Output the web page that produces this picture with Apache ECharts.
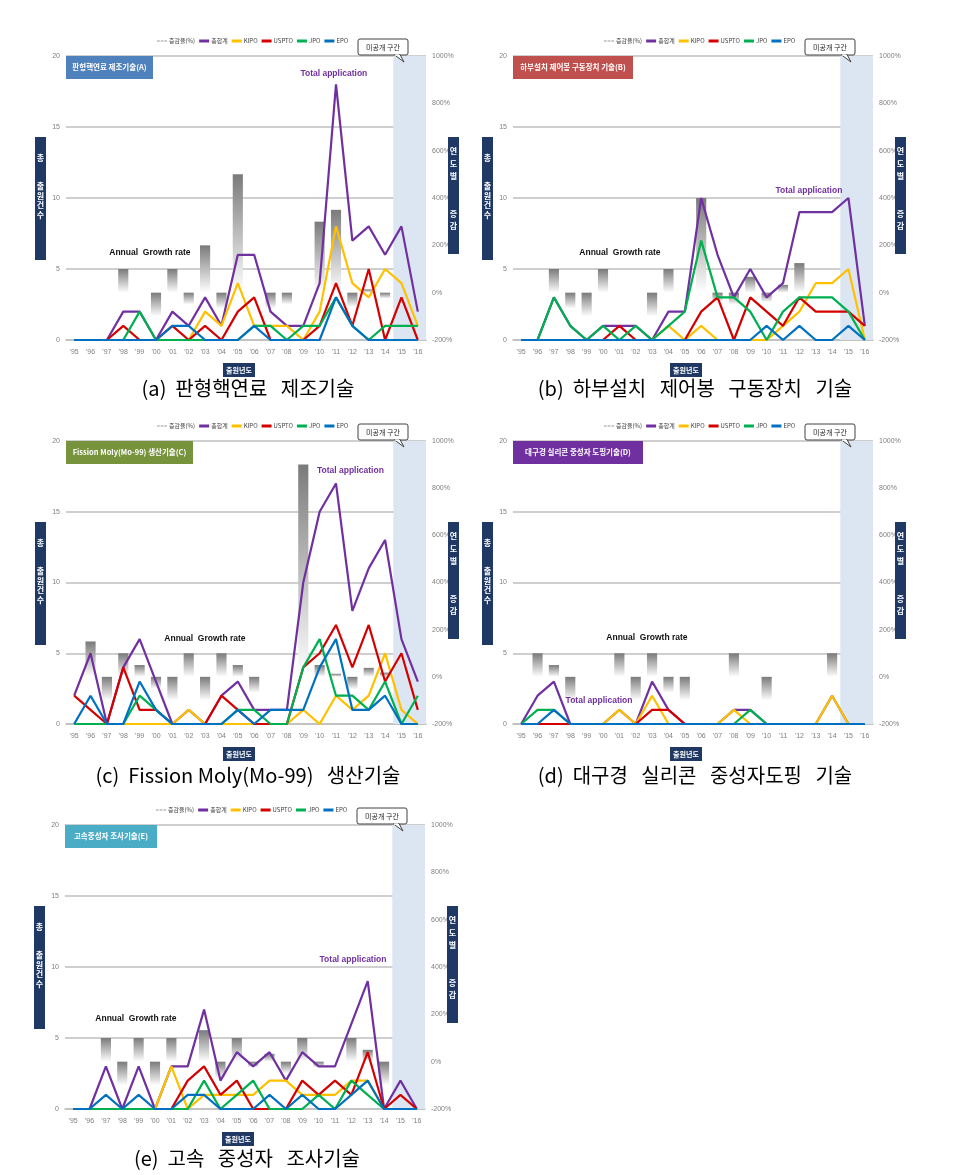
<!DOCTYPE html>
<html><head><meta charset="utf-8">
<script src="https://cdn.jsdelivr.net/npm/echarts@6/dist/echarts.min.js"></script>
<style>html,body{margin:0;padding:0;background:#fff}#c{width:958px;height:1175px}</style>
</head><body><div id="c"></div>
<script>
// ---- categories / labels ----
const years = ["'95","'96","'97","'98","'99","'00","'01","'02","'03","'04","'05","'06","'07","'08","'09","'10","'11","'12","'13","'14","'15","'16"];
const legendNames = ['증감율(%)','총합계','KIPO','USPTO','JPO','EPO'];
const unpublished = ["'15","'16"];
const countTicks = {min:0, max:20, interval:5};
const rateTicks = {min:-200, max:1000, interval:200};

// ---- (a) 판형핵연료 제조기술 ----
const A_growth = [null,null,null,100,0,-100,100,-50,200,-67,500,0,-67,-50,0,300,350,-61,14,-25,null,null];
const A_total  = [0,0,0,2,2,0,2,1,3,1,6,6,2,1,1,4,18,7,8,6,8,2];
const A_kipo   = [0,0,0,0,0,0,0,0,2,1,4,1,1,1,0,2,8,4,3,5,4,1];
const A_uspto  = [0,0,0,1,0,0,1,0,1,0,2,3,0,0,0,1,4,1,5,0,3,0];
const A_jpo    = [0,0,0,0,2,0,0,0,0,0,0,1,1,0,1,1,3,1,0,1,1,1];
const A_epo    = [0,0,0,0,0,0,1,1,0,0,0,1,0,0,0,0,3,1,0,0,0,0];

// ---- (b) 하부설치 제어봉 구동장치 기술 ----
const B_growth = [null,null,100,-67,-100,100,0,0,-100,100,0,400,-40,-50,67,-40,33,125,0,0,null,null];
const B_total  = [0,0,3,1,0,1,1,1,0,2,2,10,6,3,5,3,4,9,9,9,10,1];
const B_kipo   = [0,0,0,0,0,0,0,0,0,1,0,1,0,0,0,0,1,2,4,4,5,0];
const B_uspto  = [0,0,0,0,0,0,1,0,0,0,0,2,3,0,3,2,1,3,2,2,2,1];
const B_jpo    = [0,0,3,1,0,1,0,1,0,1,2,7,3,3,2,0,2,3,3,3,2,0];
const B_epo    = [0,0,0,0,0,0,0,0,0,0,0,0,0,0,0,1,0,1,0,0,1,0];

// ---- (c) Fission Moly(Mo-99) 생산기술 ----
const C_growth = [null,150,-100,100,50,-50,-100,100,-100,100,50,-67,0,0,900,50,13,-53,38,18,null,null];
const C_total  = [2,5,0,4,6,3,0,1,0,2,3,1,1,1,10,15,17,8,11,13,6,3];
const C_kipo   = [0,0,0,0,0,0,0,1,0,0,0,0,0,0,1,0,2,1,2,5,1,0];
const C_uspto  = [2,1,0,4,1,1,0,0,0,2,1,0,0,0,4,5,7,4,7,3,5,1];
const C_jpo    = [0,0,0,0,2,1,0,0,0,0,1,1,0,0,4,6,2,2,1,3,0,2];
const C_epo    = [0,2,0,0,3,1,0,0,0,0,1,0,1,1,1,4,6,1,1,2,0,0];

// ---- (d) 대구경 실리콘 중성자도핑 기술 ----
const D_growth = [null,100,50,-100,null,null,100,-100,100,-67,-100,null,null,100,0,-100,null,null,null,100,null,null];
const D_total  = [0,2,3,0,0,0,1,0,3,1,0,0,0,1,1,0,0,0,0,2,0,0];
const D_kipo   = [0,0,0,0,0,0,1,0,2,0,0,0,0,1,0,0,0,0,0,2,0,0];
const D_uspto  = [0,0,0,0,0,0,0,0,1,1,0,0,0,0,0,0,0,0,0,0,0,0];
const D_jpo    = [0,1,1,0,0,0,0,0,0,0,0,0,0,0,1,0,0,0,0,0,0,0];
const D_epo    = [0,0,1,0,0,0,0,0,0,0,0,0,0,0,0,0,0,0,0,0,0,0];

// ---- (e) 고속 중성자 조사기술 ----
const E_growth = [null,null,100,-100,100,-100,100,0,133,-71,100,-25,33,-50,100,-25,0,100,50,-100,null,null];
const E_total  = [0,0,3,0,3,0,3,3,7,2,4,3,4,2,4,3,3,6,9,0,2,0];
const E_kipo   = [0,0,0,0,0,0,3,0,1,1,1,1,2,2,1,1,1,2,2,0,0,0];
const E_uspto  = [0,0,0,0,0,0,0,2,3,1,2,0,0,0,2,1,2,1,4,0,1,0];
const E_jpo    = [0,0,0,0,0,0,0,0,2,0,1,2,0,0,0,1,0,2,1,0,0,0];
const E_epo    = [0,0,1,0,1,0,0,1,1,0,0,0,1,0,1,0,0,1,2,0,0,0];

const lineColors = {'총합계':'#7030a0','KIPO':'#ffc000','USPTO':'#d40000','JPO':'#00b050','EPO':'#0070c0'};

const panels = [
  {title:'판형핵연료 제조기술(A)', tColor:'#4f81bd', tW:87, caption:'(a)  판형핵연료   제조기술', capY:388,
   left:66, top:56, h:284, g:A_growth, lines:[A_total,A_kipo,A_uspto,A_jpo,A_epo], annual:[0.233,0.694], tot:[0.744,0.063]},
  {title:'하부설치 제어봉 구동장치 기술(B)', tColor:'#c0504d', tW:120, caption:'(b)  하부설치   제어봉   구동장치   기술', capY:388,
   left:513, top:56, h:284, g:B_growth, lines:[B_total,B_kipo,B_uspto,B_jpo,B_epo], annual:[0.297,0.694], tot:[0.822,0.475]},
  {title:'Fission Moly(Mo-99) 생산기술(C)', tColor:'#77933c', tW:127, caption:'(c)  Fission Moly(Mo-99)   생산기술', capY:775,
   left:66, top:441, h:283, g:C_growth, lines:[C_total,C_kipo,C_uspto,C_jpo,C_epo], annual:[0.386,0.70], tot:[0.79,0.106]},
  {title:'대구경 실리콘 중성자 도핑기술(D)', tColor:'#7030a0', tW:130, caption:'(d)  대구경   실리콘   중성자도핑   기술', capY:775,
   left:513, top:441, h:283, g:D_growth, lines:[D_total,D_kipo,D_uspto,D_jpo,D_epo], annual:[0.372,0.696], tot:[0.239,0.919]},
  {title:'고속중성자 조사기술(E)', tColor:'#4bacc6', tW:92, caption:'(e)  고속   중성자   조사기술', capY:1158,
   left:65, top:825, h:284, g:E_growth, lines:[E_total,E_kipo,E_uspto,E_jpo,E_epo], annual:[0.197,0.683], tot:[0.80,0.475]}
];

const W = 360;
const navy = '#1f3864';
const grids=[], xAxes=[], yAxes=[], series=[], legends=[], graphics=[];
const barGrad = new echarts.graphic.LinearGradient(0,0,0,1,[{offset:0,color:'#7a7a7a'},{offset:1,color:'#ffffff'}]);

panels.forEach((p,i)=>{
  grids.push({left:p.left, top:p.top, width:W, height:p.h});
  xAxes.push({type:'category', gridIndex:i, data:years, boundaryGap:true,
    axisTick:{show:false}, axisLine:{lineStyle:{color:'#bfbfbf',width:1.5}},
    axisLabel:{fontSize:7, color:'#7f7f7f', margin:9, interval:0, fontFamily:'Liberation Sans Narrow, Arial'}});
  yAxes.push({type:'value', gridIndex:i, position:'left', min:countTicks.min, max:countTicks.max, interval:countTicks.interval,
    axisLabel:{fontSize:7, color:'#7f7f7f', margin:6}, axisLine:{show:false}, axisTick:{show:false},
    splitLine:{lineStyle:{color:'#bfbfbf', width:1.5}}});
  yAxes.push({type:'value', gridIndex:i, position:'right', min:rateTicks.min, max:rateTicks.max, interval:rateTicks.interval,
    axisLabel:{fontSize:7, color:'#7f7f7f', margin:6, formatter:v=>v+'%', fontFamily:'Liberation Sans Narrow, Arial'},
    axisLine:{show:false}, axisTick:{show:false}, splitLine:{show:false}});
  series.push({name:'증감율(%)', type:'bar', xAxisIndex:i, yAxisIndex:2*i+1, data:p.g, barWidth:'62%',
    itemStyle:{color:barGrad}, silent:true,
    markArea:{silent:true, itemStyle:{color:'#dce6f2'}, data:[[{xAxis:unpublished[0]},{xAxis:unpublished[1]}]]}});
  ['총합계','KIPO','USPTO','JPO','EPO'].forEach((n,k)=>{
    series.push({name:n, type:'line', xAxisIndex:i, yAxisIndex:2*i, data:p.lines[k], showSymbol:false, symbol:'none',
      lineStyle:{color:lineColors[n], width:2.2}, itemStyle:{color:lineColors[n]}, z:3, silent:true});
  });
  legends.push({top:p.top-23, left:p.left+86, itemWidth:10, itemHeight:3, itemGap:4, selectedMode:false, icon:'rect',
    textStyle:{fontSize:6, color:'#404040', padding:[0,0,0,-3], fontFamily:'"Noto Sans CJK KR", "Liberation Sans Narrow", sans-serif'},
    data:[{name:'증감율(%)', icon:'path://M0,0h3v1h-3z M4,0h3v1h-3z M8,0h3v1h-3z', itemStyle:{color:'#9a9a9a'}},
          '총합계','KIPO','USPTO','JPO','EPO']});

  const gl=p.left, gt=p.top, gr=p.left+W, gb=p.top+p.h;
  // title box
  graphics.push({type:'rect', shape:{x:gl, y:gt, width:p.tW, height:23}, style:{fill:p.tColor}, z:10});
  graphics.push({type:'text', x:gl+p.tW/2, y:gt+11.5, style:{text:p.title, fill:'#fff', font:'bold 7.5px "Noto Sans CJK KR", sans-serif', align:'center', verticalAlign:'middle'}, z:11});
  // left axis title
  graphics.push({type:'rect', shape:{x:gl-31, y:gt+81, width:11, height:123}, style:{fill:navy}, z:10});
  graphics.push({type:'text', x:gl-25.5, y:gt+97, style:{text:'총\n\n\n출\n원\n건\n수', fill:'#fff', font:'bold 8px "Noto Sans CJK KR"', align:'center', lineHeight:9.5}, z:11});
  // right axis title
  graphics.push({type:'rect', shape:{x:gr+22, y:gt+81, width:11, height:117}, style:{fill:navy}, z:10});
  graphics.push({type:'text', x:gr+27.5, y:gt+89, style:{text:'연\n도\n별\n\n\n증\n감', fill:'#fff', font:'bold 8px "Noto Sans CJK KR"', align:'center', lineHeight:12.5}, z:11});
  // callout
  graphics.push({type:'rect', shape:{x:gr-68, y:gt-17, width:50, height:16, r:2}, style:{fill:'#fff', stroke:'#404040', lineWidth:1}, z:10});
  graphics.push({type:'polygon', shape:{points:[[gr-32,gt-1.5],[gr-22,gt+6],[gr-26,gt-1.5]]}, style:{fill:'#fff', stroke:'#404040', lineWidth:1}, z:10});
  graphics.push({type:'line', shape:{x1:gr-31.3,y1:gt-1,x2:gr-26.7,y2:gt-1}, style:{stroke:'#fff', lineWidth:1.5}, z:11});
  graphics.push({type:'text', x:gr-43, y:gt-9, style:{text:'미공개 구간', fill:'#222', font:'7px "Noto Sans CJK KR"', align:'center', verticalAlign:'middle'}, z:11});
  // x axis title
  graphics.push({type:'rect', shape:{x:gl+W/2-23, y:gb+23, width:32, height:14}, style:{fill:navy}, z:10});
  graphics.push({type:'text', x:gl+W/2-7, y:gb+30, style:{text:'출원년도', fill:'#fff', font:'bold 7px "Noto Sans CJK KR"', align:'center', verticalAlign:'middle'}, z:11});
  // annotations
  graphics.push({type:'text', x:gl+W*p.annual[0], y:gt+p.h*p.annual[1], style:{text:'Annual  Growth rate', fill:'#111', font:'bold 8.5px "Liberation Sans Narrow", Arial', align:'center', verticalAlign:'middle'}, z:11});
  graphics.push({type:'text', x:gl+W*p.tot[0], y:gt+p.h*p.tot[1], style:{text:'Total application', fill:'#7030a0', font:'bold 8.5px "Liberation Sans Narrow", Arial', align:'center', verticalAlign:'middle'}, z:11});
  // caption
  graphics.push({type:'text', x:gl+W/2+2, y:p.capY, style:{text:p.caption, fill:'#000', font:'20px "Noto Sans CJK KR", sans-serif', align:'center', verticalAlign:'middle'}, z:11});
});

const chart = echarts.init(document.getElementById('c'), null, {renderer:'canvas'});
chart.setOption({
  backgroundColor:'#fff',
  animation:false,
  grid:grids, xAxis:xAxes, yAxis:yAxes, legend:legends, series:series, graphic:graphics
});
</script></body></html>
